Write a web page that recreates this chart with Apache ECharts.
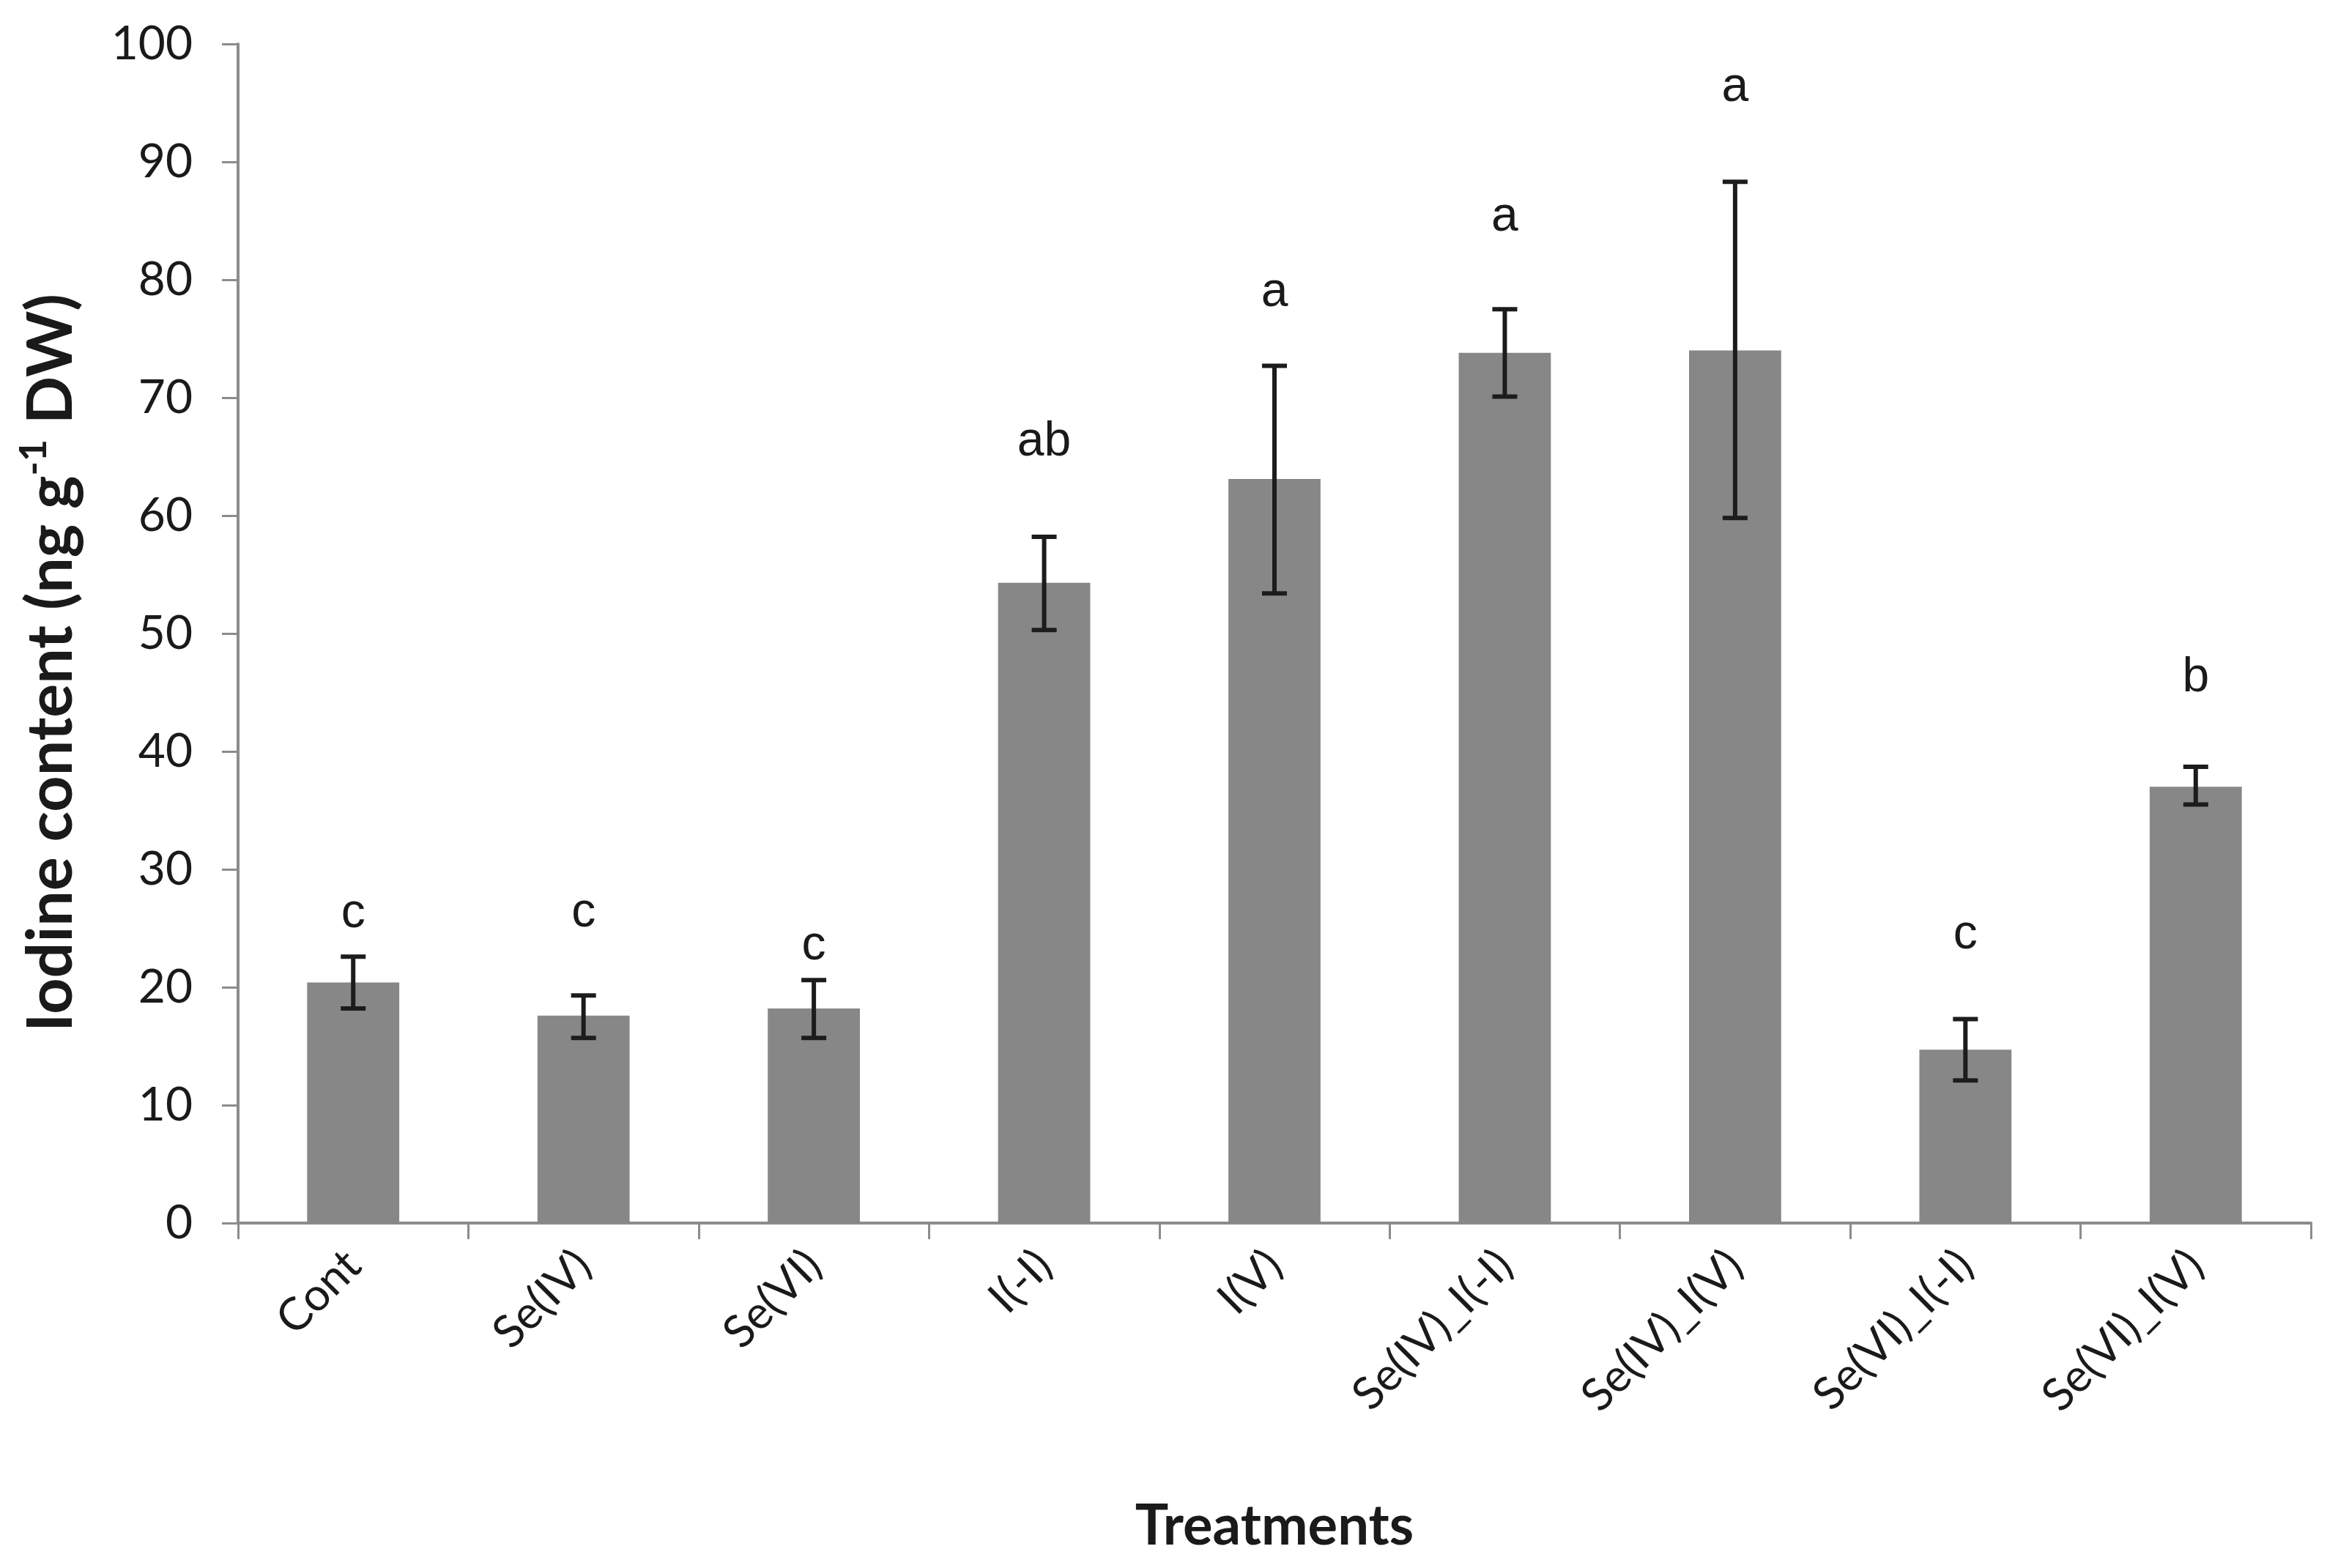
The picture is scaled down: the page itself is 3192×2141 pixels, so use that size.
<!DOCTYPE html>
<html>
<head>
<meta charset="utf-8">
<script src="https://cdn.jsdelivr.net/npm/echarts@6/dist/echarts.min.js"></script>
<style>
html,body{margin:0;padding:0;background:#fff;}
#main{width:3192px;height:2141px;}
</style>
</head>
<body>
<div id="main"></div>
<script>
const categories = ['Cont','Se(IV)','Se(VI)','I(-I)','I(V)','Se(IV)_I(-I)','Se(IV)_I(V)','Se(VI)_I(-I)','Se(VI)_I(V)'];
const means = [20.4, 17.6, 18.2, 54.3, 63.1, 73.8, 74.0, 14.7, 37.0];
const errUpper = [22.6, 19.3, 20.6, 58.2, 72.7, 77.5, 88.3, 17.3, 38.7];
const errLower = [18.2, 15.7, 15.7, 50.3, 53.4, 70.1, 59.8, 12.1, 35.5];
const letters = ['c','c','c','ab','a','a','a','c','b'];
const letterY = [26.2, 26.3, 23.5, 66.2, 78.9, 85.3, 96.3, 24.4, 46.2];
const yTicks = [0,10,20,30,40,50,60,70,80,90,100];

const chart = echarts.init(document.getElementById('main'));
const axisColor = '#8c8c8c';
const tickFont = 'Lato, "Open Sans", sans-serif';

chart.setOption({
  animation: false,
  backgroundColor: '#ffffff',
  grid: { left: 325, right: 37, top: 60, bottom: 471, containLabel: false },
  xAxis: {
    type: 'category',
    data: categories,
    boundaryGap: true,
    axisLine: { lineStyle: { color: axisColor, width: 4 } },
    axisTick: { show: true, length: 22, lineStyle: { color: axisColor, width: 3 } },
    axisLabel: { rotate: 45, margin: 48, fontSize: 62, color: '#1a1a1a', fontFamily: tickFont },
    name: 'Treatments',
    nameLocation: 'middle',
    nameGap: 376,
    nameTextStyle: { fontSize: 76, fontWeight: 'bold', color: '#1a1a1a', fontFamily: tickFont }
  },
  yAxis: {
    type: 'value',
    min: yTicks[0],
    max: yTicks[yTicks.length - 1],
    interval: 10,
    splitLine: { show: false },
    axisLine: { show: true, lineStyle: { color: axisColor, width: 4 } },
    axisTick: { show: true, length: 22, lineStyle: { color: axisColor, width: 3 } },
    axisLabel: { margin: 62, fontSize: 64, color: '#1a1a1a', fontFamily: tickFont },
    name: '{m|Iodine content (ng g}{s|-1}{m| DW)}',
    nameLocation: 'middle',
    nameGap: 205,
    nameRotate: 90,
    nameTextStyle: {
      padding: [0, 80, 0, 0],
      rich: {
        m: { fontSize: 86, fontWeight: 'bold', color: '#1a1a1a', fontFamily: tickFont, lineHeight: 100 },
        s: { fontSize: 52, fontWeight: 'bold', color: '#1a1a1a', fontFamily: tickFont, verticalAlign: 'top', lineHeight: 100 }
      }
    }
  },
  series: [
    {
      type: 'bar',
      data: means,
      barWidth: '40%',
      itemStyle: { color: '#878787' },
      z: 2
    },
    {
      type: 'custom',
      z: 5,
      data: categories.map((c, i) => [i, errLower[i], errUpper[i]]),
      renderItem: function (params, api) {
        const x = api.value(0);
        const lo = api.coord([x, api.value(1)]);
        const hi = api.coord([x, api.value(2)]);
        const hw = 17;
        const style = { stroke: '#1c1c1c', lineWidth: 6 };
        return {
          type: 'group',
          children: [
            { type: 'line', shape: { x1: hi[0], y1: hi[1], x2: lo[0], y2: lo[1] }, style: style },
            { type: 'line', shape: { x1: hi[0] - hw, y1: hi[1], x2: hi[0] + hw, y2: hi[1] }, style: style },
            { type: 'line', shape: { x1: lo[0] - hw, y1: lo[1], x2: lo[0] + hw, y2: lo[1] }, style: style }
          ]
        };
      }
    },
    {
      type: 'custom',
      z: 6,
      data: categories.map((c, i) => [i, letterY[i], letters[i]]),
      renderItem: function (params, api) {
        const i = api.value(0);
        const p = api.coord([i, letterY[i]]);
        return {
          type: 'text',
          x: p[0],
          y: p[1],
          style: {
            text: letters[i],
            fontSize: 66,
            fontFamily: '"Liberation Sans", Arial, sans-serif',
            fill: '#1a1a1a',
            align: 'center',
            verticalAlign: 'middle'
          }
        };
      }
    }
  ]
});
</script>
</body>
</html>
